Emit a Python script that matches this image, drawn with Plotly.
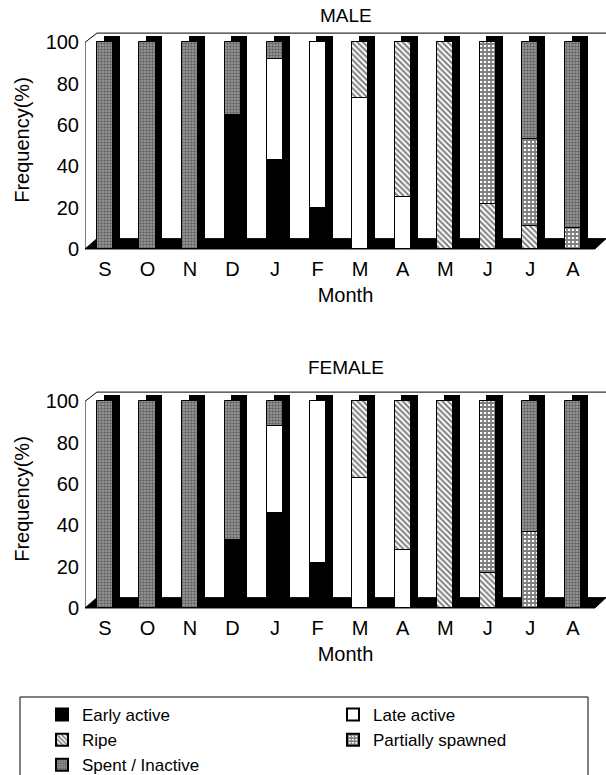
import numpy as np
import plotly.graph_objects as go

months = ["S", "O", "N", "D", "J", "F", "M", "A", "M", "J", "J", "A"]
stages = ["Early active", "Late active", "Ripe", "Partially spawned", "Spent / Inactive"]

male_early = [0, 0, 0, 65, 43, 20, 0, 0, 0, 0, 0, 0]
male_late = [0, 0, 0, 0, 49, 80, 73, 25, 0, 0, 0, 0]
male_ripe = [0, 0, 0, 0, 0, 0, 27, 75, 100, 22, 11, 0]
male_partial = [0, 0, 0, 0, 0, 0, 0, 0, 0, 78, 42, 10]
male_spent = [100, 100, 100, 35, 8, 0, 0, 0, 0, 0, 47, 90]

female_early = [0, 0, 0, 33, 46, 22, 0, 0, 0, 0, 0, 0]
female_late = [0, 0, 0, 0, 42, 78, 63, 28, 0, 0, 0, 0]
female_ripe = [0, 0, 0, 0, 0, 0, 37, 72, 100, 17, 0, 0]
female_partial = [0, 0, 0, 0, 0, 0, 0, 0, 0, 83, 37, 0]
female_spent = [100, 100, 100, 67, 12, 0, 0, 0, 0, 0, 63, 100]

W, H = 606, 775
FONT = "Liberation Sans"

styles = {
    "Early active": dict(color="black", pattern=None),
    "Late active": dict(color="white", pattern=None),
    "Ripe": dict(color="white", pattern=dict(shape="\\", fgcolor="black", bgcolor="white", size=4, solidity=0.5)),
    "Partially spawned": dict(color="white", pattern=dict(shape="+", fgcolor="black", bgcolor="white", size=4, solidity=0.7)),
    "Spent / Inactive": dict(color="#888888", pattern=dict(shape=".", fgcolor="#202020", bgcolor="#a0a0a0", size=3, solidity=0.5)),
}

x = np.arange(len(months))
BW = 0.38
DX = 0.16

fig = go.Figure()


def add_panel(series, xa, ya, legend):
    # 3-D shadow (side + top face) of each column
    fig.add_trace(go.Bar(x=x + DX, y=[98] * len(months), base=5, width=BW,
                         marker=dict(color="black", line=dict(width=0)),
                         xaxis=xa, yaxis=ya, showlegend=False, hoverinfo="skip"))
    base = np.zeros(len(months))
    for name, vals in zip(stages, series):
        vals = np.array(vals, dtype=float)
        st = styles[name]
        marker = dict(color=st["color"], line=dict(color="black", width=1))
        if st["pattern"] is not None:
            marker["pattern"] = st["pattern"]
        fig.add_trace(go.Bar(x=x, y=vals, base=base.copy(), width=BW, name=name,
                             marker=marker, xaxis=xa, yaxis=ya,
                             showlegend=legend, legendgroup=name))
        base += vals


add_panel([male_early, male_late, male_ripe, male_partial, male_spent], "x", "y", True)
add_panel([female_early, female_late, female_ripe, female_partial, female_spent], "x2", "y2", False)

XR = [-0.47, 11.78]
px_y = lambda p: 1 - p / H

axis_font = dict(family=FONT, size=20, color="black")
xcommon = dict(range=XR, domain=[85 / W, 1.0], tickvals=list(x), ticktext=months,
               showgrid=False, zeroline=False, showline=False, ticks="", automargin=False,
               ticklabelstandoff=5,
               tickfont=axis_font, title=dict(text="Month", font=axis_font, standoff=8))
ycommon = dict(range=[-0.5, 106], tickvals=[0, 20, 40, 60, 80, 100], showgrid=False,
               zeroline=False, showline=False, ticks="", tickfont=axis_font, automargin=False,
               ticklabelstandoff=5,
               title=dict(text="Frequency(%)", font=axis_font, standoff=10))

fig.update_layout(
    width=W, height=H, margin=dict(l=0, r=0, t=0, b=0, autoexpand=False),
    paper_bgcolor="white", plot_bgcolor="white",
    barmode="overlay", bargap=0,
    font=dict(family=FONT, color="black"),
    xaxis=dict(anchor="y", **xcommon),
    yaxis=dict(anchor="x", domain=[px_y(250), px_y(30)], **ycommon),
    xaxis2=dict(anchor="y2", **xcommon),
    yaxis2=dict(anchor="x2", domain=[px_y(609), px_y(389)], **ycommon),
    legend=dict(orientation="h", x=42 / W, xanchor="left", y=px_y(697), yanchor="top",
                entrywidth=246, entrywidthmode="pixels", traceorder="normal",
                font=dict(family=FONT, size=17, color="black"),
                bgcolor="rgba(0,0,0,0)", borderwidth=0, itemsizing="constant"),
    showlegend=True,
)

shapes = []
for xa, ya in (("x", "y"), ("x2", "y2")):
    # floor
    shapes.append(dict(type="path", xref=xa, yref=ya, layer="below",
                       path="M -0.47,0 L 11.52,0 L 11.78,5 L -0.19,5 Z",
                       fillcolor="black", line=dict(color="black", width=1)))
    # left wall + top edge
    shapes.append(dict(type="path", xref=xa, yref=ya, layer="below",
                       path="M -0.47,0 L -0.47,100 L -0.19,104.5 L 11.78,104.5",
                       line=dict(color="black", width=1)))
# legend box
shapes.append(dict(type="rect", xref="paper", yref="paper",
                   x0=20 / W, x1=588 / W, y0=px_y(790), y1=px_y(697),
                   line=dict(color="black", width=1)))
fig.update_layout(shapes=shapes)

title_font = dict(family=FONT, size=19, color="black")
fig.add_annotation(text="MALE", x=346 / W, y=px_y(15), xref="paper", yref="paper",
                   xanchor="center", yanchor="middle", showarrow=False, font=title_font)
fig.add_annotation(text="FEMALE", x=346 / W, y=px_y(367), xref="paper", yref="paper",
                   xanchor="center", yanchor="middle", showarrow=False, font=title_font)

fig.write_html("out.html", config={"displayModeBar": False},
               post_script="document.body.style.margin='0px';")
